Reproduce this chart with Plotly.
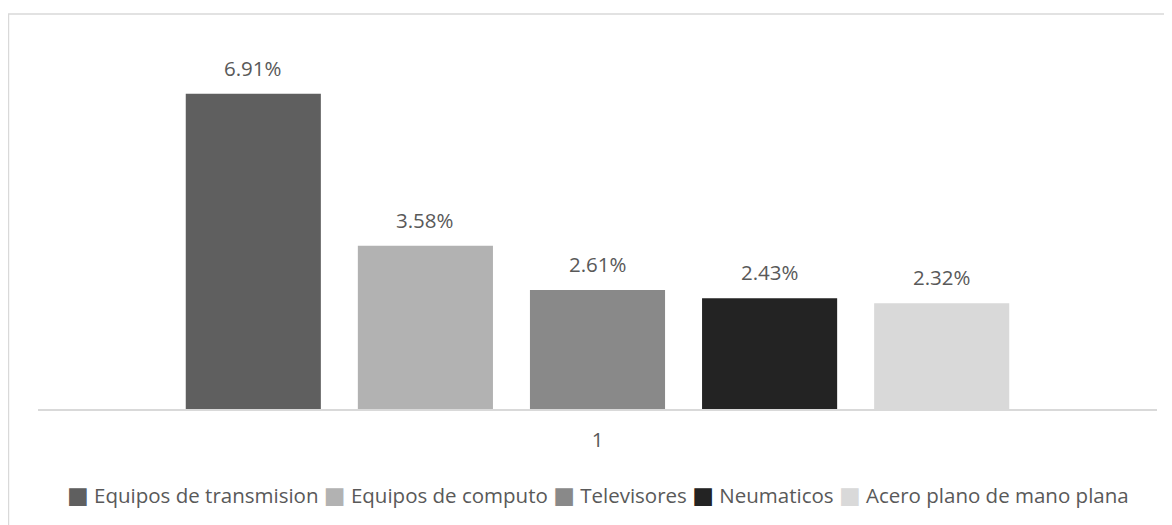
import plotly.graph_objects as go

categories = ["1"]
series_names = [
    "Equipos de transmision",
    "Equipos de computo",
    "Televisores",
    "Neumaticos",
    "Acero plano de mano plana",
]
series_values = [0.0691, 0.0358, 0.0261, 0.0243, 0.0232]
colors = ["#5f5f5f", "#b2b2b2", "#898989", "#232323", "#d9d9d9"]

FONT = "Open Sans, sans-serif"
FONT_SIZE = 20.5
TEXT_COLOR = "#595959"
BARGAP = 0.231
BARGROUPGAP = 0.215

fig = go.Figure()
for name, val, color in zip(series_names, series_values, colors):
    fig.add_trace(go.Bar(
        name=name,
        x=categories,
        y=[val],
        marker=dict(color=color, line=dict(width=0)),
        showlegend=False,
    ))

# data labels above each bar (x offset derived from the group layout)
n = len(series_names)
slot = (1 - BARGAP) / n
annotations = []
for i, val in enumerate(series_values):
    annotations.append(dict(
        x=-(1 - BARGAP) / 2 + slot * (i + 0.5),
        y=val,
        xref="x", yref="y",
        text=f"{val * 100:.2f}%",
        showarrow=False,
        yanchor="bottom",
        yshift=10,
        font=dict(family=FONT, size=FONT_SIZE, color=TEXT_COLOR),
    ))

# Excel-style legend: small squares followed by the series name
legend_text = " ".join(
    f"<span style='color:{c};font-family:DejaVu Sans;font-size:23px'>■</span> {name}"
    for name, c in zip(series_names, colors)
)
annotations.append(dict(
    x=0.5, y=-0.2356,
    xref="paper", yref="paper",
    xanchor="center", yanchor="middle",
    text=legend_text,
    showarrow=False,
    font=dict(family=FONT, size=FONT_SIZE, color=TEXT_COLOR),
))

fig.update_layout(
    barmode="group",
    bargap=BARGAP,
    bargroupgap=BARGROUPGAP,
    width=1164,
    height=517,
    margin=dict(l=30, r=15, t=36, b=116),
    paper_bgcolor="white",
    plot_bgcolor="white",
    font=dict(family=FONT, size=FONT_SIZE, color=TEXT_COLOR),
    xaxis=dict(
        showline=True,
        linecolor="#d9d9d9",
        linewidth=1.5,
        ticks="",
        ticklabelstandoff=12,
        tickfont=dict(size=FONT_SIZE, color=TEXT_COLOR),
        showgrid=False,
    ),
    yaxis=dict(
        range=[0, 0.08],
        visible=False,
        showgrid=False,
        zeroline=False,
    ),
    showlegend=False,
    annotations=annotations,
    shapes=[dict(
        type="rect",
        xref="paper", yref="paper",
        x0=-0.0264, x1=1.1,
        y0=-0.5, y1=1.0822,
        line=dict(color="#d9d9d9", width=1.5),
        fillcolor="rgba(0,0,0,0)",
        layer="below",
    )],
)

fig.write_html("out.html")
